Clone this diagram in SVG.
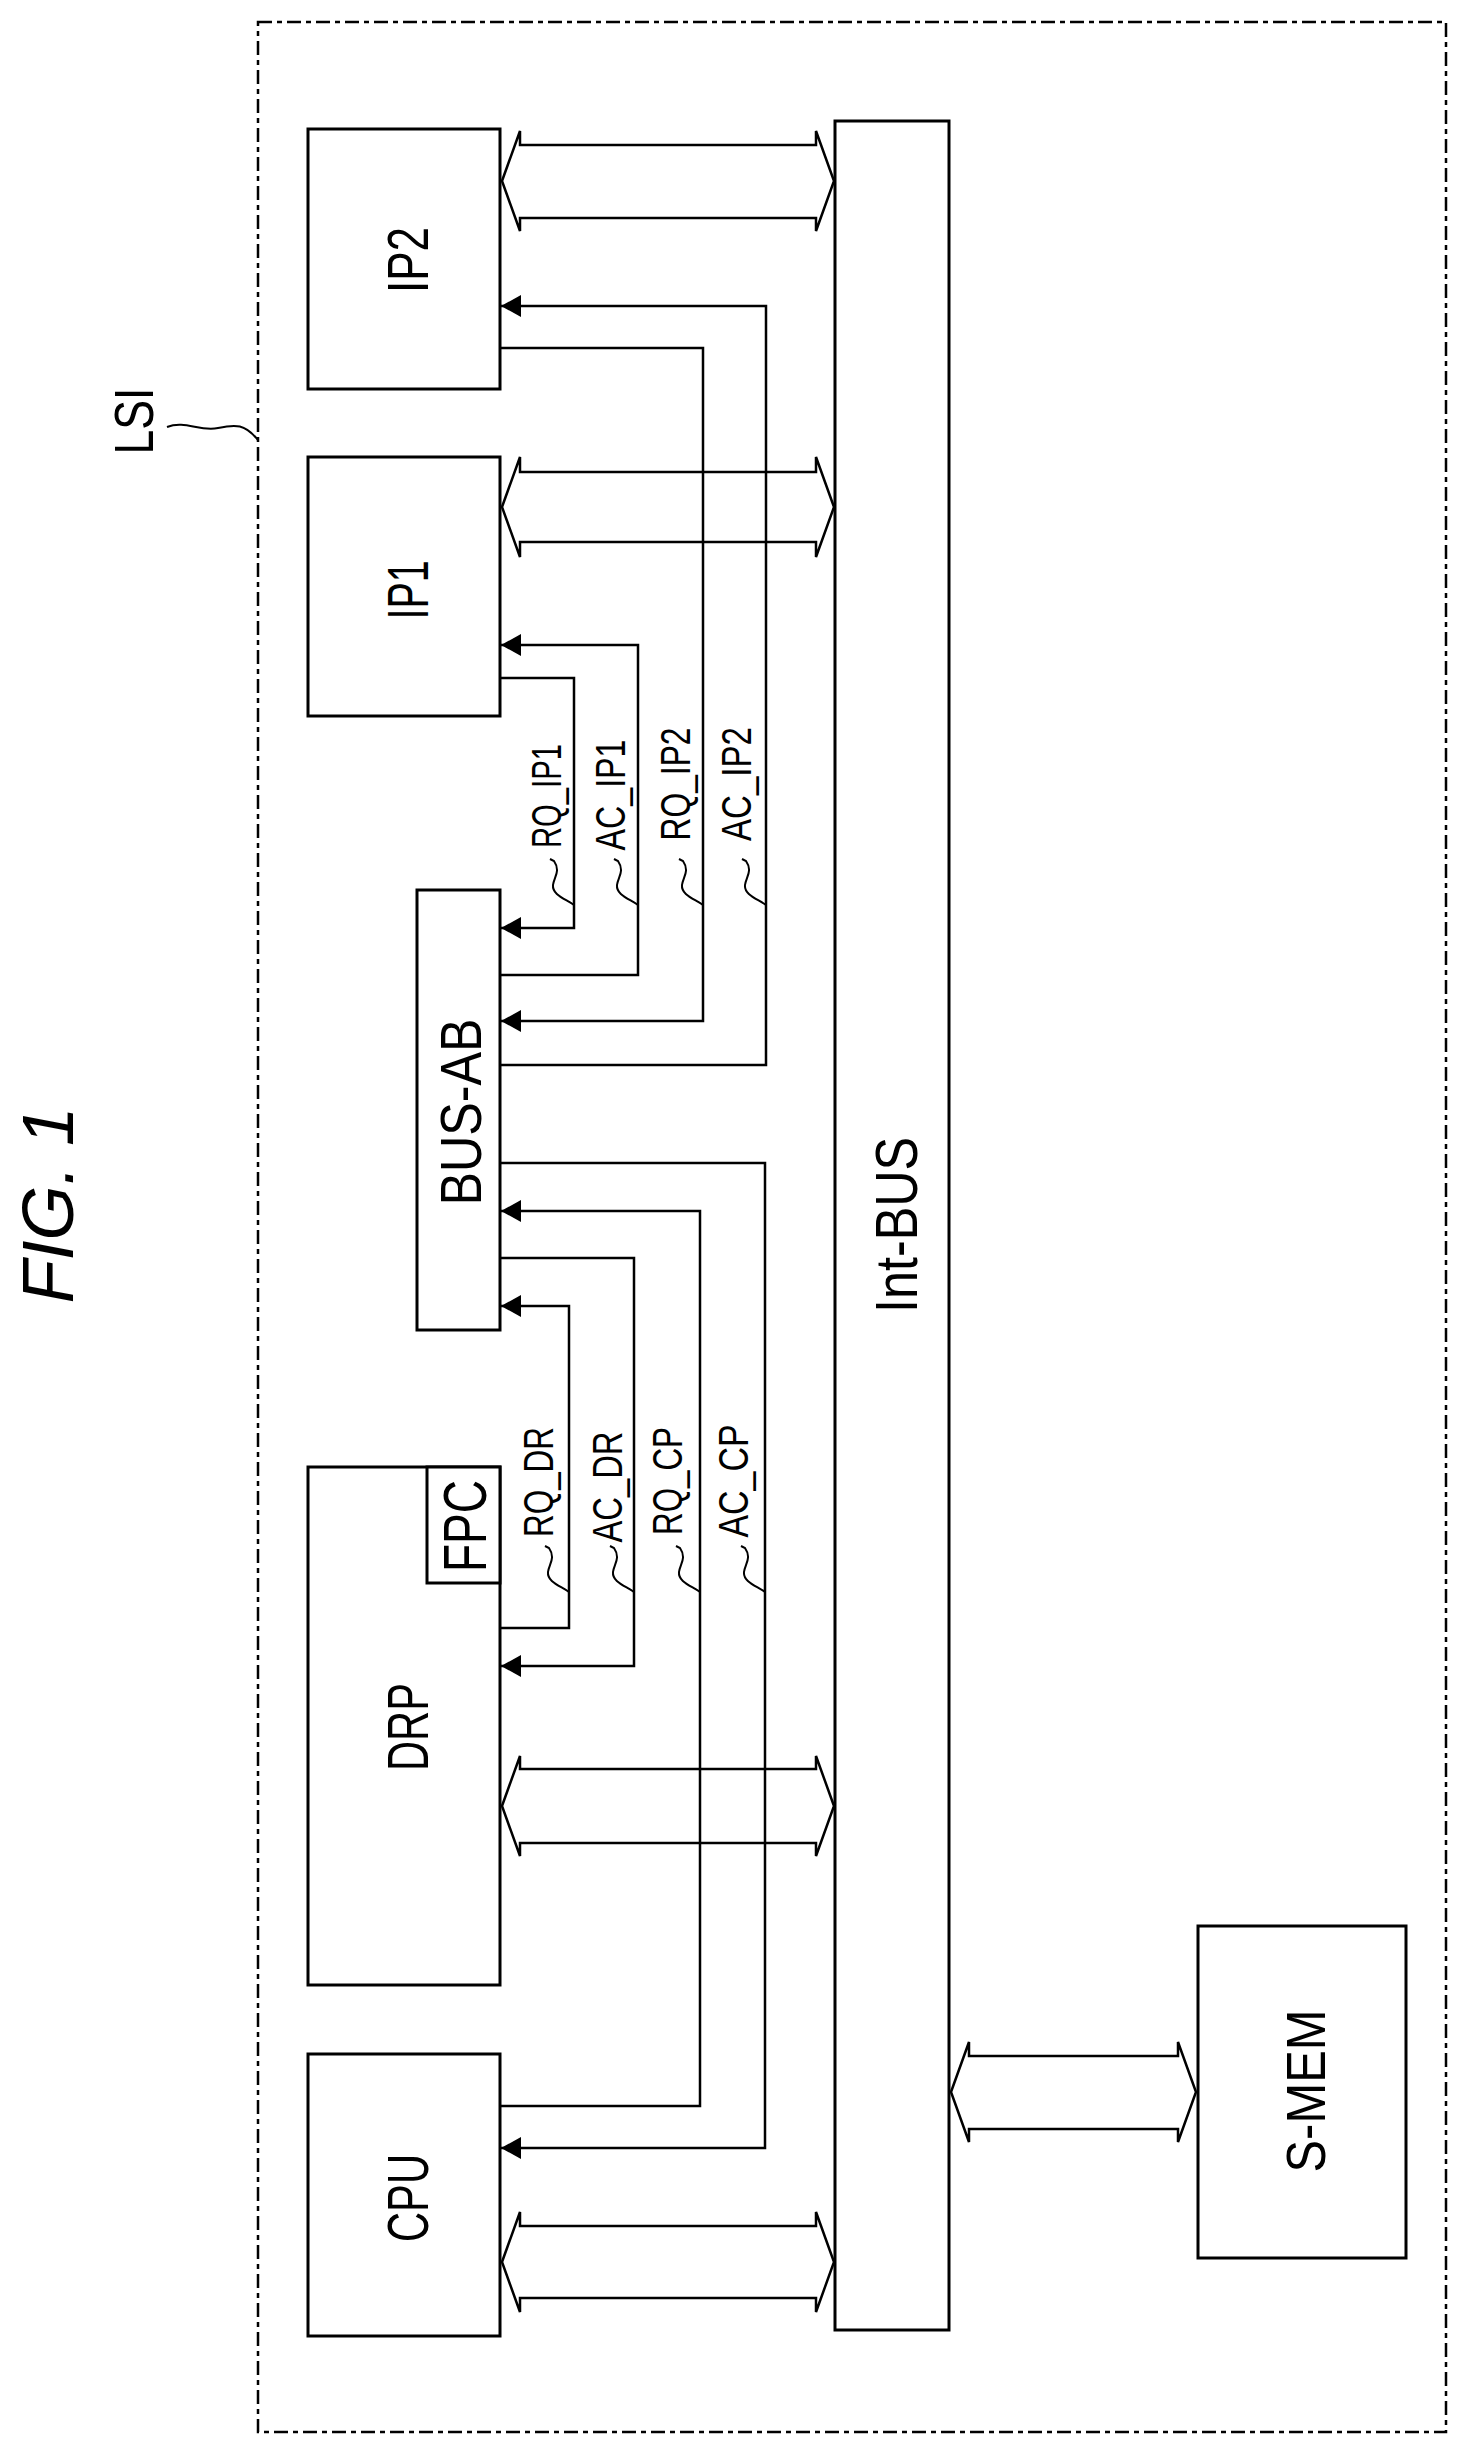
<svg xmlns="http://www.w3.org/2000/svg" width="1465" height="2452" viewBox="0 0 1465 2452">
<style>
.b{fill:#fff;stroke:#000;stroke-width:3}
.w{fill:none;stroke:#000;stroke-width:2.5}
.ba{fill:#fff;stroke:#000;stroke-width:2.5;stroke-linejoin:miter}
.t{font-family:"Liberation Sans",Arial,sans-serif;fill:#000;text-anchor:middle}
.tl{fill:none;stroke:#000;stroke-width:2}
</style>
<defs>
<marker id="ah" markerUnits="userSpaceOnUse" markerWidth="22" markerHeight="22" refX="20" refY="11" orient="auto">
<path d="M0,0 L20,11 L0,22 Z" fill="#000"/>
</marker>
</defs>
<rect x="0" y="0" width="1465" height="2452" fill="#fff"/>
<text class="t" font-size="72" font-style="italic" transform="translate(73,1205) rotate(-90)" textLength="197" lengthAdjust="spacingAndGlyphs">FIG. 1</text>
<g id="LSI">
<rect x="258" y="22" width="1188" height="2410" fill="none" stroke="#000" stroke-width="2.5" stroke-dasharray="14 5 5 5"/>
<text class="t" font-size="56" transform="translate(153,421) rotate(-90)" textLength="67" lengthAdjust="spacingAndGlyphs">LSI</text>
<path class="tl" d="M167,427 C185,420 200,432 218,428 S245,424 258,440"/>
</g>
<g id="IP2"><rect class="b" x="308" y="129" width="192" height="260"/>
<text class="t" font-size="58" transform="translate(428,260) rotate(-90)" textLength="66" lengthAdjust="spacingAndGlyphs">IP2</text></g>
<g id="IP1"><rect class="b" x="308" y="457" width="192" height="259"/>
<text class="t" font-size="58" transform="translate(428,590) rotate(-90)" textLength="59" lengthAdjust="spacingAndGlyphs">IP1</text></g>
<g id="BUS-AB"><rect class="b" x="417" y="890" width="83" height="440"/>
<text class="t" font-size="58" transform="translate(481,1112) rotate(-90)" textLength="187" lengthAdjust="spacingAndGlyphs">BUS-AB</text></g>
<g id="DRP"><rect class="b" x="308" y="1467" width="192" height="518"/>
<text class="t" font-size="58" transform="translate(428,1727) rotate(-90)" textLength="88" lengthAdjust="spacingAndGlyphs">DRP</text></g>
<g id="FPC"><rect class="b" x="427" y="1467" width="73" height="116"/>
<text class="t" font-size="62" transform="translate(486,1526) rotate(-90)" textLength="92" lengthAdjust="spacingAndGlyphs">FPC</text></g>
<g id="CPU"><rect class="b" x="308" y="2054" width="192" height="282"/>
<text class="t" font-size="58" transform="translate(428,2198) rotate(-90)" textLength="88" lengthAdjust="spacingAndGlyphs">CPU</text></g>
<g id="Int-BUS"><rect class="b" x="835" y="121" width="114" height="2209"/>
<text class="t" font-size="60" transform="translate(917,1225) rotate(-90)" textLength="176" lengthAdjust="spacingAndGlyphs">Int-BUS</text></g>
<g id="S-MEM"><rect class="b" x="1198" y="1926" width="208" height="332"/>
<text class="t" font-size="56" transform="translate(1325,2091) rotate(-90)" textLength="163" lengthAdjust="spacingAndGlyphs">S-MEM</text></g>
<g id="connectors">
<path class="ba" d="M502,181 L520,131 L520,145 L816,145 L816,131 L834,181 L816,231 L816,218 L520,218 L520,231 Z"/>
<path class="ba" d="M502,507 L520,457 L520,472 L816,472 L816,457 L834,507 L816,557 L816,542 L520,542 L520,557 Z"/>
<path class="ba" d="M502,1806 L520,1756 L520,1769 L816,1769 L816,1756 L834,1806 L816,1856 L816,1843 L520,1843 L520,1856 Z"/>
<path class="ba" d="M502,2262 L520,2212 L520,2226 L816,2226 L816,2212 L834,2262 L816,2312 L816,2298 L520,2298 L520,2312 Z"/>
<path class="ba" d="M951,2092 L969,2042 L969,2056 L1178,2056 L1178,2042 L1196,2092 L1178,2142 L1178,2129 L969,2129 L969,2142 Z"/>
<path class="w" marker-end="url(#ah)" d="M500,678 H574 V928 H501"/>
<path class="w" marker-end="url(#ah)" d="M500,975 H638 V645 H501"/>
<path class="w" marker-end="url(#ah)" d="M500,348 H703 V1021 H501"/>
<path class="w" marker-end="url(#ah)" d="M500,1065 H766 V306 H501"/>
<path class="w" marker-end="url(#ah)" d="M500,1163 H765 V2148 H501"/>
<path class="w" marker-end="url(#ah)" d="M500,2106 H700 V1211 H501"/>
<path class="w" marker-end="url(#ah)" d="M500,1258 H634 V1666 H501"/>
<path class="w" marker-end="url(#ah)" d="M500,1628 H569 V1306 H501"/>
<path class="tl" d="M574,905 c-8,-6 -22,-10 -21,-20 c1,-8 8,-14 1,-24 l-4,-2"/>
<path class="tl" d="M638,905 c-8,-6 -22,-10 -21,-20 c1,-8 8,-14 1,-24 l-4,-2"/>
<path class="tl" d="M703,905 c-8,-6 -22,-10 -21,-20 c1,-8 8,-14 1,-24 l-4,-2"/>
<path class="tl" d="M766,905 c-8,-6 -22,-10 -21,-20 c1,-8 8,-14 1,-24 l-4,-2"/>
<path class="tl" d="M569,1592 c-8,-6 -22,-10 -21,-20 c1,-8 8,-14 1,-24 l-4,-2"/>
<path class="tl" d="M634,1592 c-8,-6 -22,-10 -21,-20 c1,-8 8,-14 1,-24 l-4,-2"/>
<path class="tl" d="M700,1592 c-8,-6 -22,-10 -21,-20 c1,-8 8,-14 1,-24 l-4,-2"/>
<path class="tl" d="M765,1592 c-8,-6 -22,-10 -21,-20 c1,-8 8,-14 1,-24 l-4,-2"/>
<text class="t" font-size="42" transform="translate(561,796) rotate(-90)" textLength="104" lengthAdjust="spacingAndGlyphs">RQ_IP1</text>
<text class="t" font-size="42" transform="translate(625,795) rotate(-90)" textLength="111" lengthAdjust="spacingAndGlyphs">AC_IP1</text>
<text class="t" font-size="42" transform="translate(690,784) rotate(-90)" textLength="113" lengthAdjust="spacingAndGlyphs">RQ_IP2</text>
<text class="t" font-size="42" transform="translate(751,784) rotate(-90)" textLength="114" lengthAdjust="spacingAndGlyphs">AC_IP2</text>
<text class="t" font-size="42" transform="translate(553,1482) rotate(-90)" textLength="110" lengthAdjust="spacingAndGlyphs">RQ_DR</text>
<text class="t" font-size="42" transform="translate(622,1487) rotate(-90)" textLength="111" lengthAdjust="spacingAndGlyphs">AC_DR</text>
<text class="t" font-size="42" transform="translate(682,1481) rotate(-90)" textLength="108" lengthAdjust="spacingAndGlyphs">RQ_CP</text>
<text class="t" font-size="42" transform="translate(748,1481) rotate(-90)" textLength="113" lengthAdjust="spacingAndGlyphs">AC_CP</text>
</g>
</svg>
